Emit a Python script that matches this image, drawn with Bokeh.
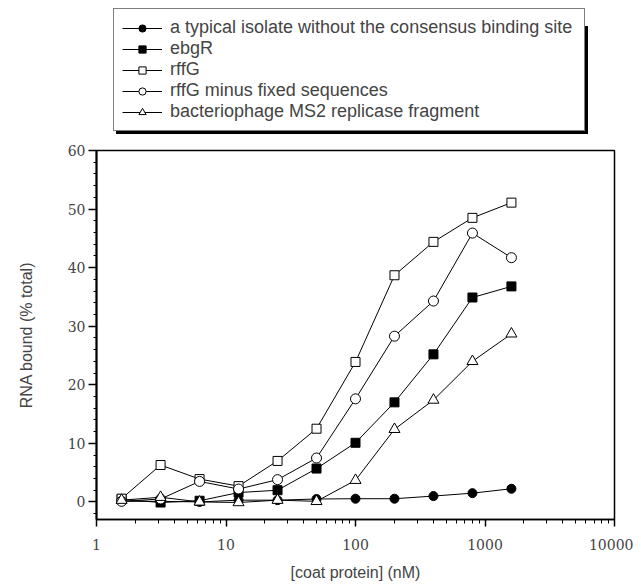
from bokeh.plotting import figure
from bokeh.layouts import column
from bokeh.models import Legend, LegendItem, PrintfTickFormatter, FixedTicker, Range1d
from bokeh.embed import file_html
from bokeh.resources import INLINE

# concentrations (nM), two-fold dilution series
conc = [1.5625, 3.125, 6.25, 12.5, 25, 50, 100, 200, 400, 800, 1600]

typical = [0.1, 0.1, 0.0, 0.3, 0.3, 0.5, 0.55, 0.55, 1.0, 1.5, 2.25]
ebgR = [0.45, -0.1, 0.2, 1.6, 2.0, 5.7, 10.1, 17.0, 25.2, 34.9, 36.8]
rffG = [0.56, 6.3, 3.9, 2.7, 7.0, 12.5, 23.9, 38.7, 44.4, 48.5, 51.1]
rffG_minus = [0.1, 0.5, 3.5, 2.2, 3.8, 7.5, 17.6, 28.3, 34.3, 45.9, 41.7]
ms2 = [0.3, 0.8, 0.0, -0.1, 0.3, 0.1, 3.7, 12.4, 17.4, 24.0, 28.7]

labels = [
    "a typical isolate without the consensus binding site",
    "ebgR",
    "rffG",
    "rffG minus fixed sequences",
    "bacteriophage MS2 replicase fragment",
]

y_ticks = [0, 10, 20, 30, 40, 50, 60]
y_minor = [-2] + [v for v in range(2, 60, 2) if v % 10 != 0]
x_ticks = [1, 10, 100, 1000, 10000]
x_minor = [k * 10 ** d for d in range(4) for k in range(2, 10)]

W, H = 633, 583
LH = 140                               # height of the legend strip
FL, FT, FR, FB = 96, 150, 614, 522     # frame edges (page px)

serif = "DejaVu Serif"
sans = "Liberation Sans"

# ---------------- main plot ----------------
p = figure(width=W, height=H - LH, x_axis_type="log",
           x_range=Range1d(1, 10000), y_range=Range1d(-3, 60),
           output_backend="svg", toolbar_location=None,
           min_border_left=FL, min_border_right=W - FR,
           min_border_top=FT - LH, min_border_bottom=H - FB)
p.grid.visible = False
p.outline_line_color = "black"
p.outline_line_width = 1.5
p.background_fill_color = "white"
p.border_fill_color = "white"

ya = p.yaxis[0]
ya.ticker = FixedTicker(ticks=y_ticks, minor_ticks=y_minor)
ya.axis_label = "RNA bound (% total)"
ya.axis_label_text_font = sans
ya.axis_label_text_font_size = "16px"
ya.axis_label_text_font_style = "normal"
ya.axis_label_standoff = 30
ya.major_label_text_font = serif
ya.major_label_text_font_size = "14px"
ya.major_label_standoff = 3
ya.major_tick_in = 0
ya.major_tick_out = 8
ya.minor_tick_in = 0
ya.minor_tick_out = 3
ya.axis_line_width = 2
ya.major_tick_line_width = 1.5

xa = p.xaxis[0]
xa.ticker = FixedTicker(ticks=x_ticks, minor_ticks=x_minor)
xa.formatter = PrintfTickFormatter(format="%d")
xa.axis_label = "[coat protein] (nM)"
xa.axis_label_text_font = sans
xa.axis_label_text_font_size = "16px"
xa.axis_label_text_font_style = "normal"
xa.axis_label_standoff = 11
xa.major_label_text_font = serif
xa.major_label_text_font_size = "14px"
xa.major_label_standoff = 12
xa.major_tick_in = 0
xa.major_tick_out = 7
xa.minor_tick_in = 0
xa.minor_tick_out = 4
xa.axis_line_width = 1.5
xa.major_tick_line_width = 1.5

# ---------------- legend strip ----------------
lf = figure(width=W, height=LH, x_range=Range1d(0, 1), y_range=Range1d(0, 1),
            output_backend="svg", toolbar_location=None,
            x_axis_location=None, y_axis_location=None,
            min_border=0)
lf.grid.visible = False
lf.outline_line_color = None
lf.background_fill_color = "white"
lf.border_fill_color = "white"

items = []
shadow_items = []

def series(ys, marker, fill, size, label):
    p.line(conc, ys, line_color="black", line_width=1)
    p.scatter(conc, ys, marker=marker, size=size, line_color="black",
              fill_color=fill, line_width=1)
    # same series in the legend strip (falls outside its ranges, so unseen)
    ln = lf.line(conc, ys, line_color="black", line_width=1)
    sc = lf.scatter(conc, ys, marker=marker, size=size * 0.8, line_color="black",
                    fill_color=fill, line_width=1)
    items.append(LegendItem(label=label, renderers=[ln, sc]))
    shadow_items.append(LegendItem(label=" ", renderers=[ln, sc]))

series(typical, "circle", "black", 9, labels[0])
series(ebgR, "square", "black", 9, labels[1])
series(rffG, "square", "white", 9, labels[2])
series(rffG_minus, "circle", "white", 10, labels[3])
series(ms2, "triangle", "white", 11, labels[4])

pad, row, sp = 8, 18, 0
label_w = 406                         # width reserved for the label column
leg_left, leg_bottom = 113, 131       # page px of the legend box
shadow = 3

def style(lg):
    lg.label_text_font = sans
    lg.label_text_font_size = "18px"
    lg.label_height = row
    lg.label_width = label_w
    lg.glyph_height = row
    lg.glyph_width = 40
    lg.spacing = sp
    lg.padding = pad
    lg.margin = 0
    lg.label_standoff = 8
    lg.border_line_color = "black"
    lg.border_line_width = 1.5
    lg.background_fill_alpha = 1

# the strip's frame is aligned with the main frame (starts at x = FL)
shadow_legend = Legend(items=shadow_items,
                       location=(leg_left - FL + shadow, LH - leg_bottom - shadow))
style(shadow_legend)
shadow_legend.background_fill_color = "black"
lf.add_layout(shadow_legend, "center")

legend = Legend(items=items, location=(leg_left - FL, LH - leg_bottom))
style(legend)
legend.background_fill_color = "white"
lf.add_layout(legend, "center")

layout = column(lf, p, spacing=0)
open("out.html", "w").write(file_html(layout, INLINE))
